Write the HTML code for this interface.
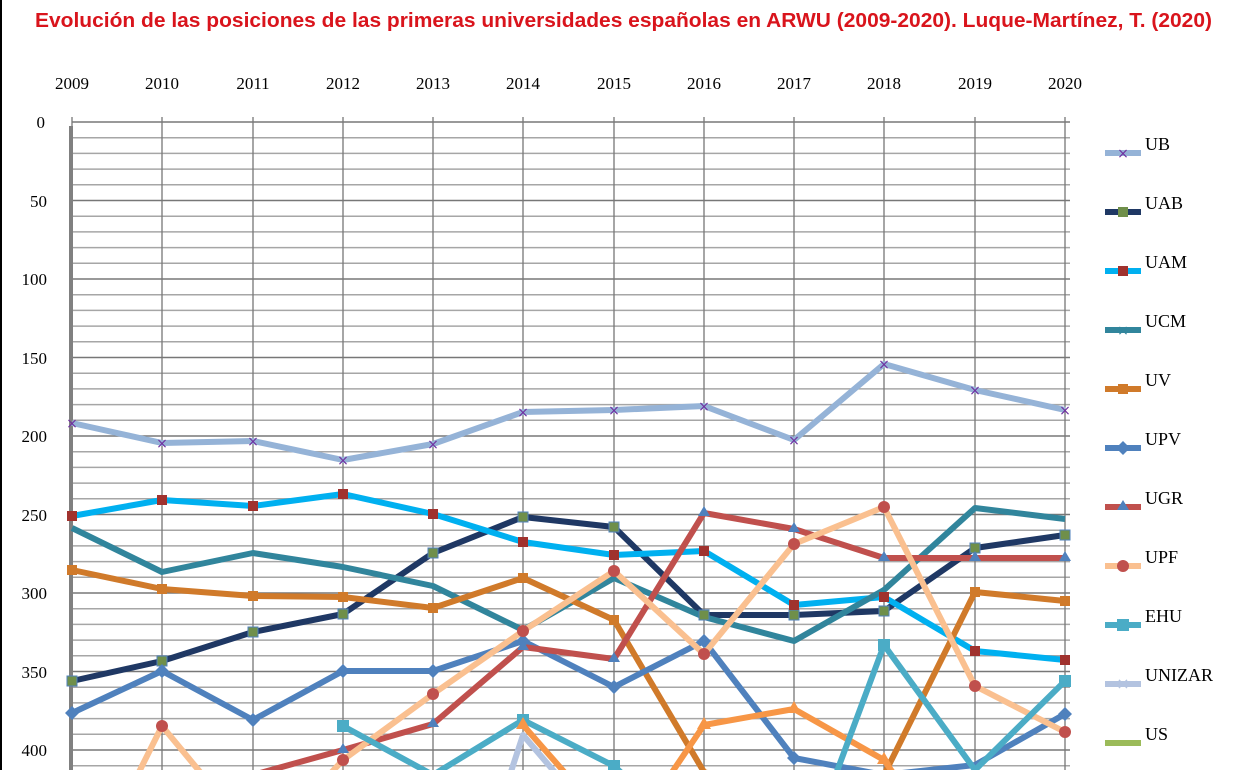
<!DOCTYPE html>
<html><head><meta charset="utf-8"><style>
body{margin:0;background:#fff;}
svg{display:block;}
</style></head><body>
<svg width="1248" height="770" xmlns="http://www.w3.org/2000/svg" font-family="Liberation Serif, serif">
<rect width="1248" height="770" fill="#fff"/>
<rect x="0" y="0" width="2" height="770" fill="#000"/>
<text x="35" y="27" textLength="1177" lengthAdjust="spacingAndGlyphs" font-family="Liberation Sans, sans-serif" font-weight="bold" font-size="20" fill="#d9141c">Evolución de las posiciones de las primeras universidades españolas en ARWU (2009-2020). Luque-Martínez, T. (2020)</text>
<g font-size="17" fill="#000" text-anchor="middle">
<text x="72" y="89">2009</text><text x="162" y="89">2010</text><text x="253" y="89">2011</text><text x="343" y="89">2012</text><text x="433" y="89">2013</text><text x="523" y="89">2014</text><text x="614" y="89">2015</text><text x="704" y="89">2016</text><text x="794" y="89">2017</text><text x="884" y="89">2018</text><text x="975" y="89">2019</text><text x="1065" y="89">2020</text>
</g>
<g font-size="17" fill="#000" text-anchor="end">
<text x="45" y="128">0</text><text x="47" y="207">50</text><text x="47" y="285">100</text><text x="47" y="364">150</text><text x="47" y="442">200</text><text x="47" y="521">250</text><text x="47" y="599">300</text><text x="47" y="678">350</text><text x="47" y="756">400</text>
</g>
<g stroke="#a6a6a6" stroke-width="1.5">
<path d="M72 122H1070M72 137.7H1070M72 153.4H1070M72 169.1H1070M72 184.8H1070M72 200.5H1070M72 216.2H1070M72 231.9H1070M72 247.6H1070M72 263.3H1070M72 279H1070M72 294.7H1070M72 310.4H1070M72 326.1H1070M72 341.8H1070M72 357.5H1070M72 373.2H1070M72 388.9H1070M72 404.6H1070M72 420.3H1070M72 436H1070M72 451.7H1070M72 467.4H1070M72 483.1H1070M72 498.8H1070M72 514.5H1070M72 530.2H1070M72 545.9H1070M72 561.6H1070M72 577.3H1070M72 593H1070M72 608.7H1070M72 624.4H1070M72 640.1H1070M72 655.8H1070M72 671.5H1070M72 687.2H1070M72 702.9H1070M72 718.6H1070M72 734.3H1070M72 750H1070M72 765.7H1070"/>
</g>
<g stroke="#777" stroke-width="1.3">
<path d="M72 117V770M162 117V770M253 117V770M343 117V770M433 117V770M523 117V770M614 117V770M704 117V770M794 117V770M884 117V770M975 117V770M1065 117V770"/>
<path d="M72 122H1070M72 200.5H1070M72 279H1070M72 357.5H1070M72 436H1070M72 514.5H1070M72 593H1070M72 671.5H1070M72 750H1070"/>
</g>
<rect x="69" y="126" width="4" height="644" fill="#808080"/>
<g fill="none" stroke-width="6" stroke-linejoin="round">
<polyline stroke="#95b3d7" points="72,423 162,443 253,441 343,460 433,444 523,412 614,410 704,406 794,440 884,364 975,390 1065,410"/>
<polyline stroke="#1f3864" points="72,681 162,661 253,632 343,614 433,553 523,517 614,527 704,615 794,615 884,611 975,548 1065,535"/>
<polyline stroke="#00b0f0" points="72,516 162,500 253,506 343,494 433,514 523,542 614,555 704,551 794,605 884,597 975,651 1065,660"/>
<polyline stroke="#31859c" points="72,528 162,572 253,553 343,567 433,586 523,630 614,578 704,617 794,641 884,590 975,508 1065,519"/>
<polyline stroke="#d07a2a" points="72,570 162,589 253,596 343,597 433,608 523,578 614,620 704,772 794,800 884,775 975,592 1065,601"/>
<polyline stroke="#4f81bd" points="72,713 162,671 253,720 343,671 433,671 523,641 614,687 704,641 794,758 884,775 975,765 1065,714"/>
<polyline stroke="#c0504d" points="253,775 343,750 433,724 523,647 614,659 704,513 794,529 884,558 975,558 1065,558"/>
<polyline stroke="#fac090" points="130,790 162,726 215,790"/>
<polyline stroke="#fac090" points="315,790 343,760 433,694 523,631 614,571 704,654 794,544 884,507 975,686 1065,732"/>
<polyline stroke="#f79646" points="523,725 580,790"/>
<polyline stroke="#f79646" points="660,790 704,725 794,709 884,760 905,790"/>
<polyline stroke="#4bacc6" points="343,726 433,775 523,720 614,766 640,790"/>
<polyline stroke="#4bacc6" points="830,790 884,645 975,770 1065,681"/>
<polyline stroke="#b3c3e0" points="505,790 523,735 570,790"/>
</g>
<g fill="#7030a0" font-size="14" text-anchor="middle" font-family="DejaVu Sans, sans-serif">
<text x="72" y="428">×</text><text x="162" y="448">×</text><text x="253" y="446">×</text><text x="343" y="465">×</text><text x="433" y="449">×</text><text x="523" y="417">×</text><text x="614" y="415">×</text><text x="704" y="411">×</text><text x="794" y="445">×</text><text x="884" y="369">×</text><text x="975" y="395">×</text><text x="1065" y="415">×</text>
</g>
<g fill="#6f8f4a" stroke="#4f81bd" stroke-width="1">
<rect x="67" y="676" width="10" height="10"/><rect x="157" y="656" width="10" height="10"/><rect x="248" y="627" width="10" height="10"/><rect x="338" y="609" width="10" height="10"/><rect x="428" y="548" width="10" height="10"/><rect x="518" y="512" width="10" height="10"/><rect x="609" y="522" width="10" height="10"/><rect x="699" y="610" width="10" height="10"/><rect x="789" y="610" width="10" height="10"/><rect x="879" y="606" width="10" height="10"/><rect x="970" y="543" width="10" height="10"/><rect x="1060" y="530" width="10" height="10"/>
</g>
<g fill="#a0322e">
<rect x="67" y="511" width="10" height="10"/><rect x="157" y="495" width="10" height="10"/><rect x="248" y="501" width="10" height="10"/><rect x="338" y="489" width="10" height="10"/><rect x="428" y="509" width="10" height="10"/><rect x="518" y="537" width="10" height="10"/><rect x="609" y="550" width="10" height="10"/><rect x="699" y="546" width="10" height="10"/><rect x="789" y="600" width="10" height="10"/><rect x="879" y="592" width="10" height="10"/><rect x="970" y="646" width="10" height="10"/><rect x="1060" y="655" width="10" height="10"/>
</g>
<g fill="#d07a2a">
<rect x="67" y="565" width="10" height="10"/><rect x="157" y="584" width="10" height="10"/><rect x="248" y="591" width="10" height="10"/><rect x="338" y="592" width="10" height="10"/><rect x="428" y="603" width="10" height="10"/><rect x="518" y="573" width="10" height="10"/><rect x="609" y="615" width="10" height="10"/><rect x="970" y="587" width="10" height="10"/><rect x="1060" y="596" width="10" height="10"/>
</g>
<g fill="#4f81bd">
<path d="M72 706l7 7-7 7-7-7zM162 664l7 7-7 7-7-7zM253 713l7 7-7 7-7-7zM343 664l7 7-7 7-7-7zM433 664l7 7-7 7-7-7zM523 634l7 7-7 7-7-7zM614 680l7 7-7 7-7-7zM704 634l7 7-7 7-7-7zM794 751l7 7-7 7-7-7zM1065 707l7 7-7 7-7-7z"/>
<path d="M343 743l6 10h-12zM433 717l6 10h-12zM523 640l6 10h-12zM614 652l6 10h-12zM704 506l6 10h-12zM794 522l6 10h-12zM884 551l6 10h-12zM975 551l6 10h-12zM1065 551l6 10h-12z"/>
</g>
<g fill="#c0504d">
<circle cx="162" cy="726" r="6"/><circle cx="343" cy="760" r="6"/><circle cx="433" cy="694" r="6"/><circle cx="523" cy="631" r="6"/><circle cx="614" cy="571" r="6"/><circle cx="704" cy="654" r="6"/><circle cx="794" cy="544" r="6"/><circle cx="884" cy="507" r="6"/><circle cx="975" cy="686" r="6"/><circle cx="1065" cy="732" r="6"/>
</g>
<g fill="#4bacc6">
<rect x="337" y="720" width="12" height="12"/><rect x="517" y="714" width="12" height="12"/><rect x="608" y="760" width="12" height="12"/><rect x="878" y="639" width="12" height="12"/><rect x="1059" y="675" width="12" height="12"/>
</g>
<g fill="#f79646">
<path d="M523 717l7 12h-14zM704 717l7 12h-14zM794 701l7 12h-14zM884 752l7 12h-14z"/>
</g>
<g stroke-width="6" fill="none">
<path stroke="#95b3d7" d="M1105 153h36"/><path stroke="#1f3864" d="M1105 212h36"/><path stroke="#00b0f0" d="M1105 271h36"/><path stroke="#31859c" d="M1105 330h36"/><path stroke="#d07a2a" d="M1105 389h36"/><path stroke="#4f81bd" d="M1105 448h36"/><path stroke="#c0504d" d="M1105 507h36"/><path stroke="#fac090" d="M1105 566h36"/><path stroke="#4bacc6" d="M1105 625h36"/><path stroke="#b3c3e0" d="M1105 684h36"/><path stroke="#9bbb59" d="M1105 743h36"/>
</g>
<g>
<text x="1123" y="158" font-family="DejaVu Sans,sans-serif" font-size="14" fill="#7030a0" text-anchor="middle">×</text>
<rect x="1118" y="207" width="10" height="10" fill="#6f8f4a"/>
<rect x="1118" y="266" width="10" height="10" fill="#a0322e"/>
<text x="1123" y="335" font-family="DejaVu Sans,sans-serif" font-size="14" fill="#31859c" text-anchor="middle">×</text>
<rect x="1118" y="384" width="10" height="10" fill="#d07a2a"/>
<path d="M1123 441l7 7-7 7-7-7z" fill="#4f81bd"/>
<path d="M1123 500l6 10h-12z" fill="#4f81bd"/>
<circle cx="1123" cy="566" r="6" fill="#c0504d"/>
<rect x="1117" y="619" width="12" height="12" fill="#4bacc6"/>
<text x="1123" y="689" font-family="DejaVu Sans,sans-serif" font-size="16" fill="#b3c3e0" text-anchor="middle">×</text>
</g>
<g font-size="18" fill="#000">
<text x="1145" y="150">UB</text><text x="1145" y="209">UAB</text><text x="1145" y="268">UAM</text><text x="1145" y="327">UCM</text><text x="1145" y="386">UV</text><text x="1145" y="445">UPV</text><text x="1145" y="504">UGR</text><text x="1145" y="563">UPF</text><text x="1145" y="622">EHU</text><text x="1145" y="681">UNIZAR</text><text x="1145" y="740">US</text>
</g>
</svg>
</body></html>
